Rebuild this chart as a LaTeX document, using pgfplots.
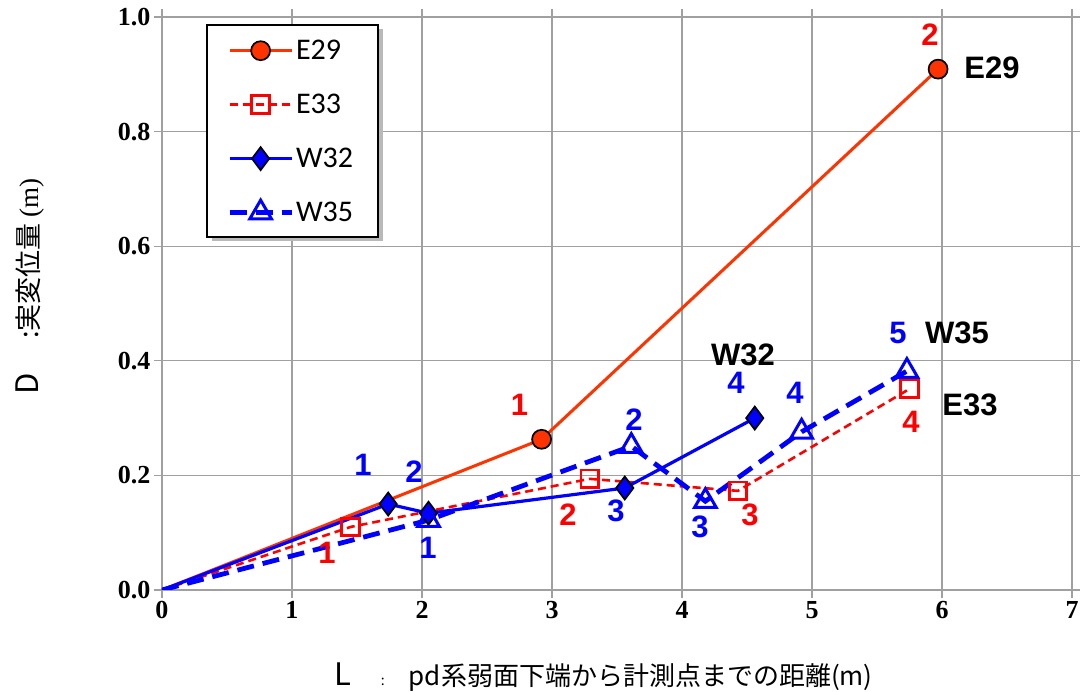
\documentclass[border=0pt]{standalone}
\usepackage{fontspec}
\setmainfont{Liberation Serif}
\newfontfamily\jp{Noto Sans CJK JP}
\newfontfamily\lab{Liberation Sans}
\newfontfamily\leg{Carlito}
\usepackage{pgfplots}
\pgfplotsset{compat=1.18}
\definecolor{eorange}{HTML}{FF3300}
\definecolor{ered}{HTML}{FF0000}
\definecolor{wblue}{HTML}{0000FF}
\definecolor{gridgray}{HTML}{A0A0A0}
\begin{document}
\begin{tikzpicture}
\begin{axis}[
  anchor=south west, at={(0pt,0pt)},
  scale only axis, width=910pt, height=573pt,
  xmin=0, xmax=7, ymin=0, ymax=1,
  xtick={0,1,2,3,4,5,6,7},
  ytick={0,0.2,0.4,0.6,0.8,1.0},
  grid=major,
  grid style={color=gridgray, line width=1.3pt},
  axis line style={gridgray, line width=1.3pt},
  tick style={gridgray, line width=1.3pt},
  tick align=outside, major tick length=8pt,
  /pgf/number format/assume math mode=true,
  tick label style={font=\fontsize{26}{26}\selectfont\bfseries},
  y tick label style={/pgf/number format/fixed, /pgf/number format/fixed zerofill, /pgf/number format/precision=1},
  xlabel={{\fontsize{31}{31}\selectfont L}\hspace{30pt}{\fontsize{14}{14}\selectfont :}\hspace{24pt}pd系弱面下端から計測点までの距離(m)},
  xlabel style={font=\jp\fontsize{26}{26}\selectfont, at={(axis description cs:0.485,-0.152)}, anchor=center},
  ylabel={{\fontsize{31}{31}\selectfont D}\hspace{34pt}:実変位量 {\rmfamily(m)}},
  ylabel style={font=\jp\fontsize{27}{27}\selectfont, at={(axis description cs:-0.145,0.53)}, anchor=center},
  legend style={at={(0.0495,0.986)}, anchor=north west, draw=none, fill=none,
    font=\leg\fontsize{30}{30}\selectfont, row sep=29pt, inner xsep=20pt, inner ysep=13pt},
  legend cell align=left,
  legend image code/.code={\draw[mark repeat=2,mark phase=2] plot coordinates {(0pt,0pt) (31pt,0pt) (62pt,0pt)};},
]
% legend frame with shadow
\fill[gray!55] (rel axis cs:0.0545,0.979) rectangle (rel axis cs:0.2424,0.609);
\draw[fill=white, draw=black, line width=1.2pt] (rel axis cs:0.0495,0.986) rectangle (rel axis cs:0.2374,0.616);

\addplot[color=eorange, line width=3pt, mark=*, mark size=9.5pt, mark phase=2,
  mark options={solid, fill=eorange, draw=black, line width=1.7pt}]
  coordinates {(0,0) (2.92,0.263) (5.97,0.909)};
\addlegendentry{E29}
\addplot[color=ered, line width=2.6pt, dash pattern=on 8pt off 5pt, mark=square, mark size=8.8pt, mark phase=2,
  mark options={solid, fill=white, draw=ered, line width=2.8pt}]
  coordinates {(0,0) (1.45,0.110) (3.29,0.194) (4.43,0.173) (5.75,0.351)};
\addlegendentry{E33}
\addplot[color=wblue, line width=3.2pt, mark=diamond*, mark size=11.5pt, mark phase=2,
  mark options={solid, fill=wblue, draw=black, line width=1.7pt}]
  coordinates {(0,0) (1.74,0.150) (2.05,0.134) (3.56,0.178) (4.56,0.300)};
\addlegendentry{W32}
\addplot[color=wblue, line width=4.8pt, dash pattern=on 17pt off 9pt, mark=triangle, mark size=12.5pt, mark phase=2,
  mark options={solid, fill=white, draw=wblue, line width=3pt}]
  coordinates {(0,0) (2.05,0.122) (3.61,0.251) (4.18,0.155) (4.92,0.276) (5.73,0.382)};
\addlegendentry{W35}

\begin{scope}[every node/.style={font=\lab\bfseries\fontsize{31}{31}\selectfont}]
\node[text=ered] at (axis cs:2.75,0.323) {1};
\node[text=ered] at (axis cs:5.908,0.969) {2};
\node[text=black] at (axis cs:6.385,0.911) {E29};
\node[text=ered] at (axis cs:1.269,0.065) {1};
\node[text=ered] at (axis cs:3.123,0.131) {2};
\node[text=ered] at (axis cs:4.523,0.131) {3};
\node[text=ered] at (axis cs:5.762,0.293) {4};
\node[text=black] at (axis cs:6.215,0.323) {E33};
\node[text=wblue] at (axis cs:1.546,0.218) {1};
\node[text=wblue] at (axis cs:1.938,0.206) {2};
\node[text=wblue] at (axis cs:3.492,0.138) {3};
\node[text=wblue] at (axis cs:4.415,0.361) {4};
\node[text=black] at (axis cs:4.469,0.410) {W32};
\node[text=wblue] at (axis cs:2.046,0.073) {1};
\node[text=wblue] at (axis cs:3.631,0.298) {2};
\node[text=wblue] at (axis cs:4.138,0.110) {3};
\node[text=wblue] at (axis cs:4.869,0.344) {4};
\node[text=wblue] at (axis cs:5.662,0.448) {5};
\node[text=black] at (axis cs:6.115,0.448) {W35};
\end{scope}
\end{axis}
\pgfresetboundingbox
\useasboundingbox (-162pt,-102pt) rectangle (924pt,590pt);
\end{tikzpicture}
\end{document}
